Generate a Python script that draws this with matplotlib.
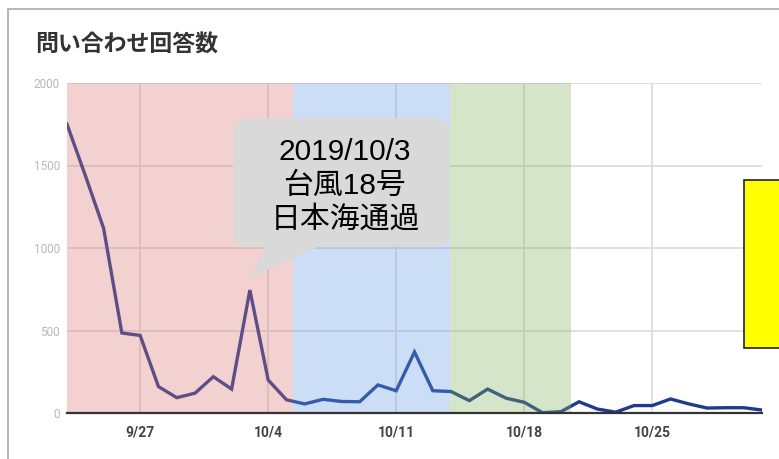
import numpy as np
import pandas as pd
import matplotlib
matplotlib.use('Agg')
import matplotlib.pyplot as plt
from matplotlib import dates as mdates
from matplotlib.patches import Rectangle, FancyBboxPatch, Polygon

# daily answer counts, 2019/9/23 - 2019/10/31
dates = pd.date_range('2019-09-23', '2019-10-31', freq='D')
counts = [1750, 1440, 1120, 485, 470, 160, 93, 120, 220, 145,
          745, 200, 80, 55, 83, 70, 68, 170, 135, 370,
          135, 130, 75, 145, 90, 65, 2, 8, 68, 24,
          5, 45, 45, 85, 55, 30, 32, 32, 18]

tick_dates = ['2019-09-27', '2019-10-04', '2019-10-11', '2019-10-18', '2019-10-25']
tick_labels = ['9/27', '10/4', '10/11', '10/18', '10/25']
y_ticks = [0, 500, 1000, 1500, 2000]

# shaded periods (start, end, colour)
band_starts = ['2019-09-23 00:00', '2019-10-05 09:00', '2019-10-13 23:00']
band_ends = ['2019-10-05 09:00', '2019-10-13 23:00', '2019-10-20 14:00']
band_colors = ['#dd7676', '#679be3', '#80b35b']

title = '問い合わせ回答数'
callout_lines = ['2019/10/3', '台風18号', '日本海通過']

fig = plt.figure(figsize=(7.79, 4.59), dpi=100)
ax = fig.add_axes([67 / 779, 1 - 413 / 459, (762 - 67) / 779, (413 - 83) / 459])

x = mdates.date2num(dates)
ax.plot(x, counts, color='#1f3c8c', lw=2.4, zorder=2, solid_joinstyle='miter')

for s, e, c in zip(band_starts, band_ends, band_colors):
    ax.axvspan(mdates.date2num(pd.Timestamp(s)), mdates.date2num(pd.Timestamp(e)),
               color=c, alpha=0.33, lw=0, zorder=3)

ax.set_xlim(x[0], x[-1])
ax.set_ylim(0, 2000)
ax.set_xticks(mdates.date2num(pd.to_datetime(tick_dates)))
ax.set_xticklabels(tick_labels)
ax.set_yticks(y_ticks)
ax.set_yticklabels([str(v) for v in y_ticks])

ax.set_axisbelow(True)
ax.grid(True, color='#dcdcdc', lw=1.2)
for side in ['top', 'right', 'left']:
    ax.spines[side].set_visible(False)
ax.spines['bottom'].set_color('#333333')
ax.spines['bottom'].set_linewidth(1.6)
ax.spines['bottom'].set_zorder(5)

ax.tick_params(axis='x', length=0, pad=9, labelsize=10, labelcolor='#444444')
ax.tick_params(axis='y', length=0, pad=5, labelsize=8.5, labelcolor='#b8b8b8')
for lab in ax.get_xticklabels():
    lab.set_fontfamily('Roboto')
    lab.set_fontweight('bold')
for lab in ax.get_yticklabels():
    lab.set_fontfamily('Roboto')

# outer frame
fig.patches.append(Rectangle((8 / 100, -0.2), 8.0, 4.59 - 9 / 100 + 0.2, transform=fig.dpi_scale_trans,
                             fill=False, edgecolor='#aaaaaa', lw=1.2))

fig.text(35 / 779, 1 - 45 / 459, title, fontsize=16.5, fontweight='bold', color='#333333',
         family=['Noto Sans CJK JP', 'DejaVu Sans'], va='center', ha='left')

# callout bubble (inch coordinates)
bubble = FancyBboxPatch((2.33 + 0.15, 2.12 + 0.15), 2.17 - 0.30, 1.29 - 0.30,
                        boxstyle='round,pad=0.15,rounding_size=0.16',
                        transform=fig.dpi_scale_trans, facecolor='#d9d9d9', edgecolor='none', zorder=6)
fig.patches.append(bubble)
tail = Polygon([(2.66, 2.14), (3.22, 2.14), (2.50, 1.81)], closed=True,
               transform=fig.dpi_scale_trans, facecolor='#d9d9d9', edgecolor='none', zorder=6)
fig.patches.append(tail)
for i, t in enumerate(callout_lines):
    fig.text(345 / 779, 1 - (152 + 34 * i) / 459, t, fontsize=21.5, color='black',
             family=['Liberation Sans', 'Noto Sans CJK JP'], ha='center', va='center', zorder=7)

# yellow box cut at right edge
fig.patches.append(Rectangle((7.44, (459 - 348) / 100), 1.0, 1.68, transform=fig.dpi_scale_trans,
                             facecolor='#ffff00', edgecolor='#222222', lw=1.2, zorder=6))

fig.savefig('out.png', dpi=100)
